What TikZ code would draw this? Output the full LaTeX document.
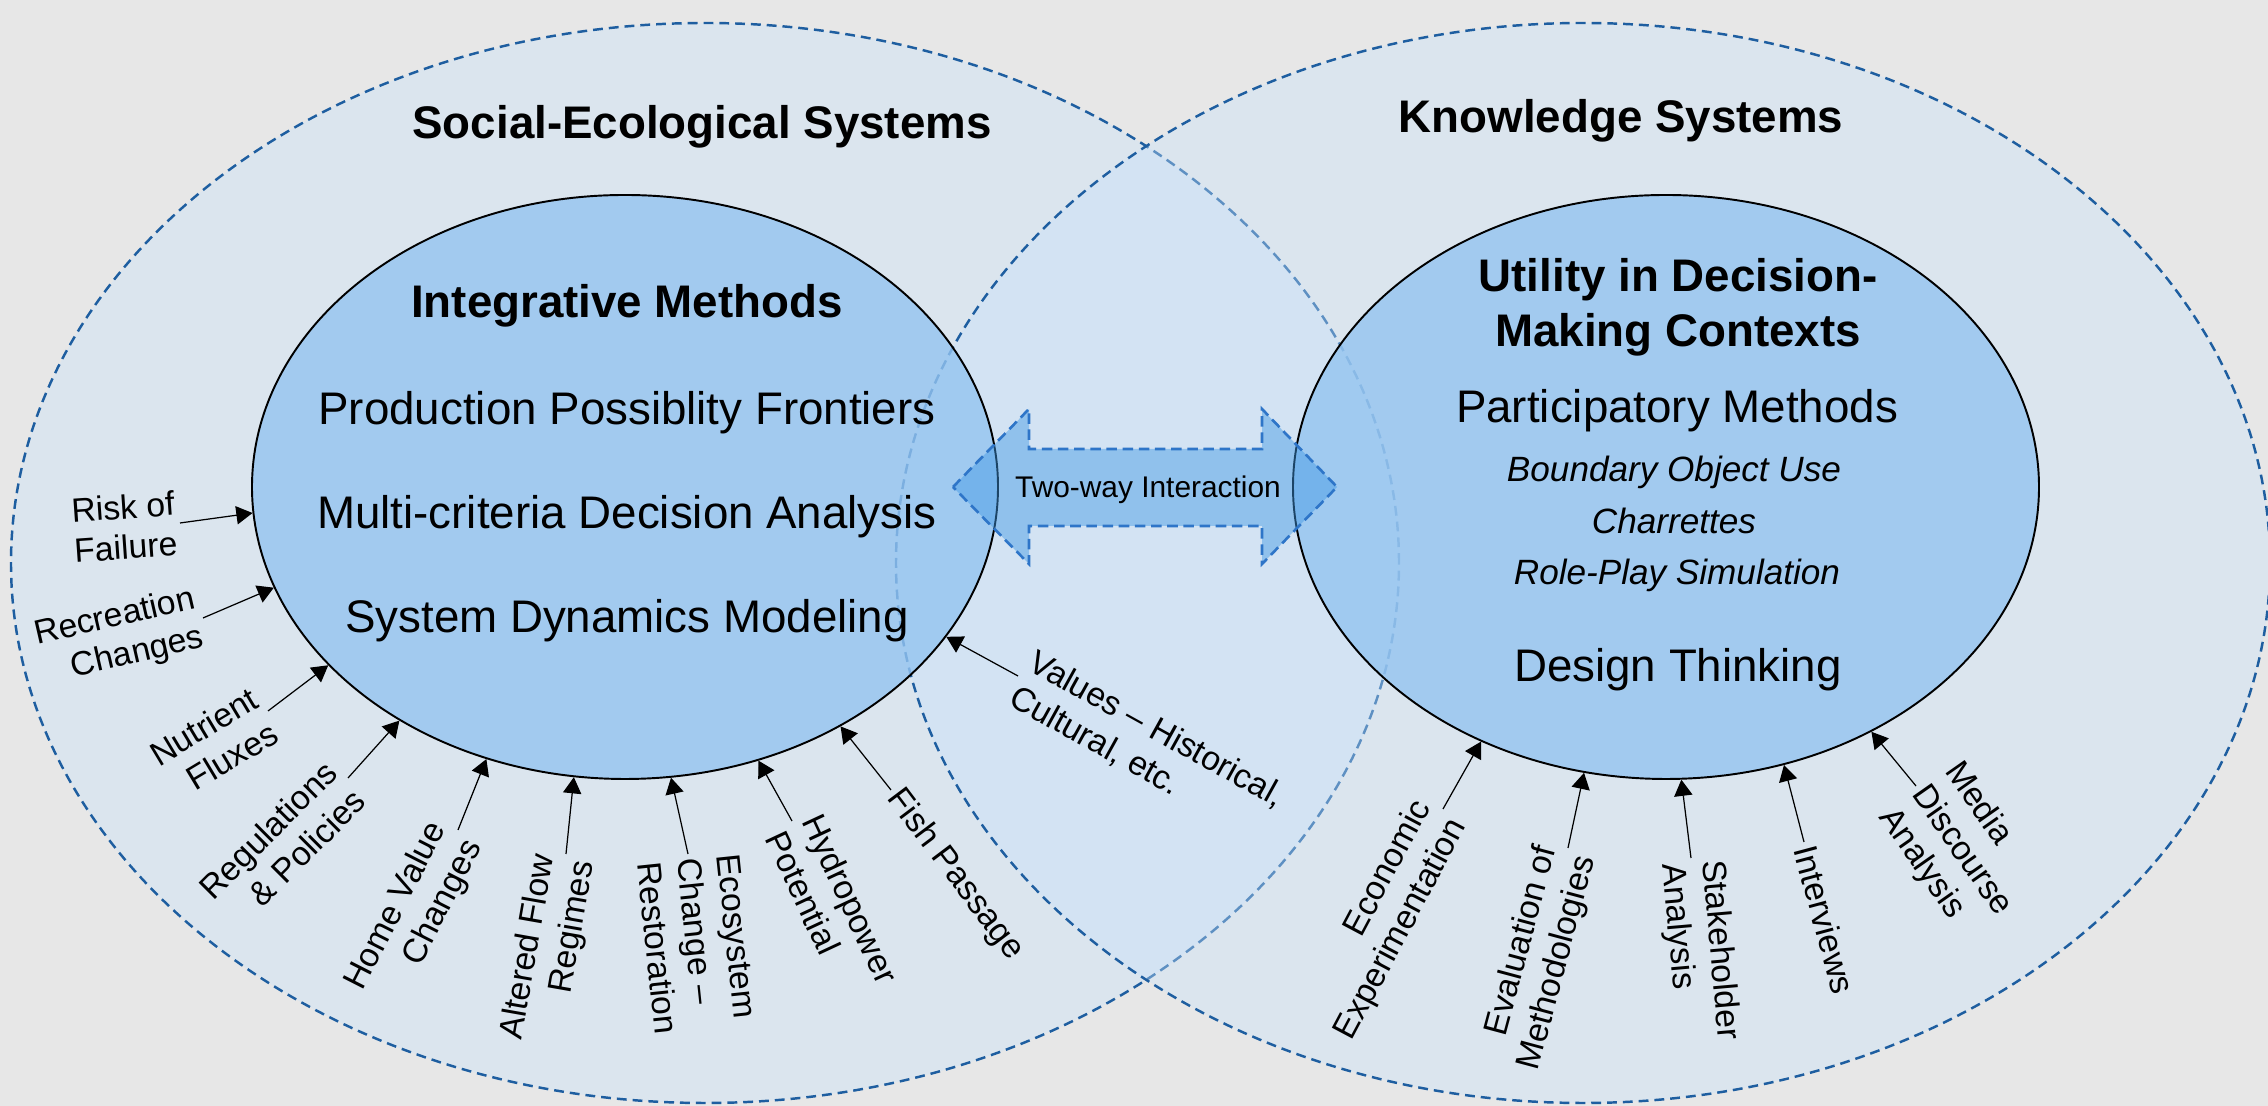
\documentclass[tikz,border=0pt]{standalone}
\usepackage{fontspec}
\setmainfont{Liberation Sans}
\usetikzlibrary{shapes.geometric,arrows.meta}

\definecolor{bgGray}{RGB}{231,231,231}
\definecolor{sysFill}{RGB}{200,226,252}
\definecolor{sysLine}{RGB}{30,94,160}
\definecolor{coreFill}{RGB}{148,196,240}
\definecolor{linkFill}{RGB}{64,153,229}
\definecolor{linkLine}{RGB}{46,117,200}

\begin{document}
\begin{tikzpicture}[
  system/.style={draw=sysLine, line width=0.7pt, dash pattern=on 2.8pt off 1.7pt,
                 fill=sysFill, fill opacity=0.38},
  core/.style={ellipse, draw, line width=0.55pt, fill=coreFill, fill opacity=0.8,
               inner sep=0pt, minimum width=7.46cm, minimum height=5.84cm},
  head/.style={font=\fontsize{13}{15.6}\selectfont\bfseries, align=center, anchor=base},
  item/.style={font=\fontsize{13}{15.6}\selectfont, anchor=base},
  sub/.style={font=\fontsize{10}{12}\selectfont\itshape, anchor=base},
  lbl/.style={font=\fontsize{9.6}{11.4}\selectfont, inner sep=1pt},
  lblL/.style={lbl, anchor=east, align=right, rotate=#1},
  lblR/.style={lbl, anchor=west, align=left, rotate=#1},
  spoke/.style={-{Triangle[length=4.6pt,width=5.2pt]}, line width=0.35pt},
]
\useasboundingbox (0,0) rectangle (22.68,11.06);
\fill[bgGray] (0,0) rectangle (22.68,11.06);

%% Outer system rings
\draw[system] (7.05,5.43)  ellipse [x radius=6.94, y radius=5.40];
\draw[system] (15.83,5.43) ellipse [x radius=6.87, y radius=5.40];

%% Inner method ellipses
\node[core] (inL) at (6.25,6.19)  {};
\node[core] (inR) at (16.66,6.19) {};

%% Two-way link between the two cores
\filldraw[fill=linkFill, fill opacity=0.45, draw=linkLine, line width=0.75pt,
          dash pattern=on 3pt off 1.6pt]
  (9.53,6.19) -- (10.29,6.97) -- (10.29,6.57) -- (12.62,6.57) -- (12.62,6.97)
  -- (13.37,6.19) -- (12.62,5.42) -- (12.62,5.80) -- (10.29,5.80) -- (10.29,5.42) -- cycle;
\node[font=\fontsize{8.5}{10}\selectfont, anchor=base] (link) at (11.48,6.08) {Two-way Interaction};

%% Titles
\node[head] (ses) at (7.02,9.67)  {Social-Ecological Systems};
\node[head] (ks)  at (16.21,9.73) {Knowledge Systems};

%% Left core: integrative methods
\node[head] (integ) at (6.27,7.88) {Integrative Methods};
\node[item] (ppf)   at (6.27,6.81) {Production Possiblity Frontiers};
\node[item] (mcda)  at (6.27,5.77) {Multi-criteria Decision Analysis};
\node[item] (sdm)   at (6.27,4.73) {System Dynamics Modeling};

%% Right core: decision-making contexts
\node[head, anchor=center] (util) at (16.78,7.99) {Utility in Decision-\\Making Contexts};
\node[item] (part)  at (16.77,6.83) {Participatory Methods};
\node[sub]  (bou)   at (16.74,6.24) {Boundary Object Use};
\node[sub]  (char)  at (16.74,5.72) {Charrettes};
\node[sub]  (role)  at (16.77,5.21) {Role-Play Simulation};
\node[item] (dt)    at (16.78,4.24) {Design Thinking};

%% Drivers around the left core
\node[lblL=4]   (risk) at (1.80,5.83) {Risk of\\Failure};
\node[lblL=13]  (rec)  at (2.03,4.88) {Recreation\\Changes};
\node[lblL=31]  (nut)  at (2.68,3.95) {Nutrient\\Fluxes};
\node[lblL=45]  (reg)  at (3.48,3.28) {Regulations\\\& Policies};
\node[lblL=63]  (home) at (4.58,2.76) {Home Value\\Changes};
\node[lblL=80]  (flow) at (5.66,2.52) {Altered Flow\\Regimes};
\node[lblR=-84] (eco)  at (6.88,2.52) {Ecosystem\\Change --\\Restoration};
\node[lblR=-65] (hydro) at (7.92,2.85) {Hydropower\\Potential};
\node[lblR=-53] (fish) at (8.91,3.16) {Fish Passage};
\node[lblR=-29] (val)  at (10.18,4.30) {Values -- Historical,\\Cultural, etc.};

\draw[spoke] (risk.east)  -- (inL.184.5);
\draw[spoke] (rec.east)   -- (inL.196.2);
\draw[spoke] (nut.east)   -- (inL.211.6);
\draw[spoke] (reg.east)   -- (inL.226.7);
\draw[spoke] (home.east)  -- (inL.243.9);
\draw[spoke] (flow.east)  -- (inL.260.9);
\draw[spoke] (eco.west)   -- (inL.279.3);
\draw[spoke] (hydro.west) -- (inL.296.2);
\draw[spoke] (fish.west)  -- (inL.312.9);
\draw[spoke] (val.west)   -- (inL.335.7);

%% Methods around the right core
\node[lblL=62]  (econ)  at (14.43,2.97) {Economic\\Experimentation};
\node[lblL=75]  (eval)  at (15.68,2.58) {Evaluation of\\Methodologies};
\node[lblR=-85] (stake) at (16.91,2.48) {Stakeholder\\Analysis};
\node[lblR=-75] (inter) at (18.04,2.64) {Interviews};
\node[lblR=-55] (media) at (19.16,3.20) {Media\\Discourse\\Analysis};

\draw[spoke] (econ.east)  -- (inR.234.8);
\draw[spoke] (eval.east)  -- (inR.254.8);
\draw[spoke] (stake.west) -- (inR.273.9);
\draw[spoke] (inter.west) -- (inR.293.7);
\draw[spoke] (media.west) -- (inR.310.2);

\end{tikzpicture}
\end{document}
